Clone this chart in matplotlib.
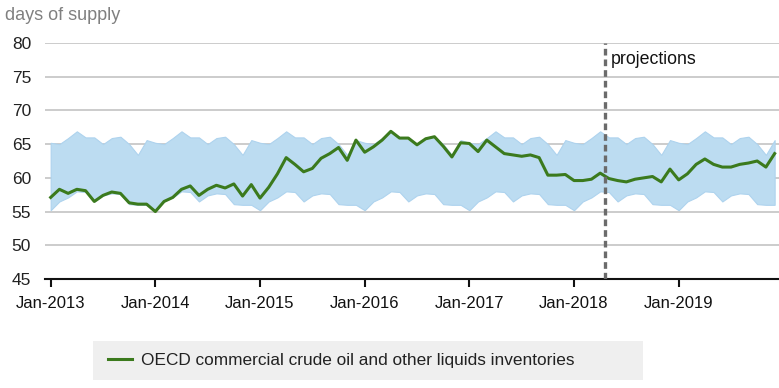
import matplotlib.pyplot as plt
from matplotlib.patches import Rectangle

plt.rcParams['font.family'] = ['Liberation Sans', 'DejaVu Sans']

# month index 0 = Jan-2013 ... 83 = Dec-2019
years = ["Jan-2013", "Jan-2014", "Jan-2015", "Jan-2016", "Jan-2017", "Jan-2018", "Jan-2019"]

inventories = [
    57.1, 58.3, 57.7, 58.3, 58.1, 56.5, 57.4, 57.9, 57.7, 56.3, 56.1, 56.1,  # 2013
    55.0, 56.5, 57.1, 58.3, 58.8, 57.4, 58.3, 58.9, 58.5, 59.1, 57.3, 59.0,  # 2014
    57.0, 58.6, 60.6, 63.0, 62.0, 60.9, 61.4, 62.9, 63.6, 64.5, 62.6, 65.6,  # 2015
    63.8, 64.6, 65.6, 66.9, 65.9, 65.9, 64.9, 65.8, 66.1, 64.7, 63.1, 65.2,  # 2016
    65.1, 63.9, 65.6, 64.6, 63.6, 63.4, 63.2, 63.4, 63.0, 60.4, 60.4, 60.5,  # 2017
    59.6, 59.6, 59.8, 60.7, 59.9, 59.6, 59.4, 59.8, 60.0, 60.2, 59.4, 61.3,  # 2018
    59.7, 60.6, 62.0, 62.8, 62.0, 61.6, 61.6, 62.0, 62.2, 62.5, 61.6, 63.6,  # 2019
]

# monthly range (same months every year)
range_high_month = [65.2, 65.0, 65.9, 66.9, 66.0, 66.0, 65.0, 65.9, 66.1, 65.0, 63.4, 65.6]
range_low_month = [55.2, 56.5, 57.1, 58.0, 57.9, 56.5, 57.4, 57.7, 57.6, 56.1, 56.0, 56.0]
range_high = range_high_month * 7
range_low = range_low_month * 7

projection_start = 63.56

months = list(range(len(inventories)))

fig = plt.figure(figsize=(7.79, 3.88), dpi=100)
ax = fig.add_axes([45 / 779, 1 - 279 / 388, 734 / 779, 236 / 388])

ax.fill_between(months, range_low, range_high, color='#bcdcf1', lw=0.8, edgecolor='#aed3ee', zorder=2)
ax.plot(months, inventories, color='#3b7a1d', lw=2.2, zorder=4,
        label='OECD commercial crude oil and other liquids inventories')
ax.axvline(projection_start, color='#6b6b6b', lw=2.4, ls=(0, (2.0, 1.2)), zorder=5)
ax.text(projection_start + 0.7, 77.5, 'projections', fontsize=12.8, color='#111111',
        va='center', zorder=6)

ax.set_xlim(-0.65, 83.5)
ax.set_ylim(45, 80)
ax.set_yticks(range(45, 81, 5))
ax.set_xticks(range(0, 84, 12))
ax.set_xticklabels(years)
ax.yaxis.grid(True, color='#c8c8c8', lw=1.3, zorder=1)
ax.set_axisbelow(True)
for s in ['left', 'right', 'top']:
    ax.spines[s].set_visible(False)
ax.spines['bottom'].set_color('#111111')
ax.spines['bottom'].set_linewidth(1.5)
ax.tick_params(axis='y', length=0, pad=10, labelsize=12.5, labelcolor='#222222')
ax.tick_params(axis='x', length=6, width=1.5, color='#111111', pad=6, labelsize=12, labelcolor='#111111')

fig.text(5 / 779, 1 - 15 / 388, 'days of supply', fontsize=13, color='#808080', va='center')

fig.add_artist(Rectangle((93 / 779, 1 - 380 / 388), 550 / 779, 39 / 388,
                         transform=fig.transFigure, facecolor='#efefef', edgecolor='none'))
fig.legend(loc='center left', bbox_to_anchor=(92 / 779, 1 - 360 / 388), frameon=False,
           fontsize=12.4, handlelength=1.4, handletextpad=0.55, labelcolor='#222222')

fig.savefig('out.png', dpi=100)
